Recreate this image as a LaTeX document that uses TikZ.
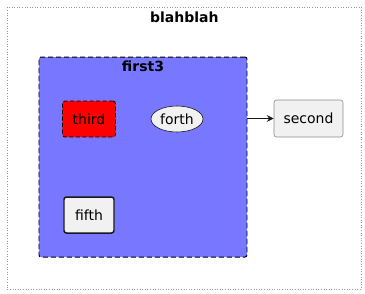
\documentclass[tikz,border=0pt]{standalone}
\usepackage{fontspec}
\setmainfont{DejaVu Sans}
\usepackage{tikz}
\usetikzlibrary{arrows.meta, positioning, shapes.geometric}
\definecolor{umlgray}{RGB}{241,241,241}
\definecolor{umlblue}{RGB}{119,119,255}
\definecolor{umlline}{RGB}{24,24,24}

\begin{document}
\begin{tikzpicture}[
        x=1bp, y=-1bp,
        every node/.style={font=\fontsize{14bp}{16bp}\selectfont, inner sep=0pt},
        frame/.style={draw=gray!80, dotted, line width=0.6pt},
        pack/.style={draw=black, fill=umlblue, dash pattern=on 5bp off 3bp, rounded corners=2pt, line width=1pt},
        comp/.style={draw=umlline, fill=umlgray, rounded corners=2.5pt, line width=0.6pt},
        title/.style={font=\fontsize{14bp}{16bp}\selectfont\bfseries},
        arr/.style={umlline, line width=0.7pt, -{Stealth[length=7bp, width=7bp, inset=2.5bp]}}
    ]
        \useasboundingbox (0,0) rectangle (365,294);

        \node[frame, minimum width=353.5bp, minimum height=282bp] (blahblah) at (184.25,148) {};
        \node[title, below=4.5bp of blahblah.north] (blahblahT) {blahblah};

        \node[pack, minimum width=208bp, minimum height=200bp] (first3) at (143,157) {};
        \node[title, below=4.5bp of first3.north] (first3T) {first3};

        \node[comp, fill=red, draw=black, dash pattern=on 4bp off 2.5bp, line width=0.8pt, minimum width=53bp, minimum height=36bp] (third) at (89,119) {third};
        \node[comp, ellipse, minimum width=52bp, minimum height=26bp] (forth) at (177,119) {forth};
        \node[comp, line width=1.5pt, minimum width=50bp, minimum height=36bp] (fifth) at (89,215) {fifth};

        \node[comp, draw=gray!90, minimum width=69bp, minimum height=37bp] (second) at (308.5,118.5) {second};

        \draw[arr] (first3.east |- second.west) -- (second.west);
    \end{tikzpicture}
\end{document}
